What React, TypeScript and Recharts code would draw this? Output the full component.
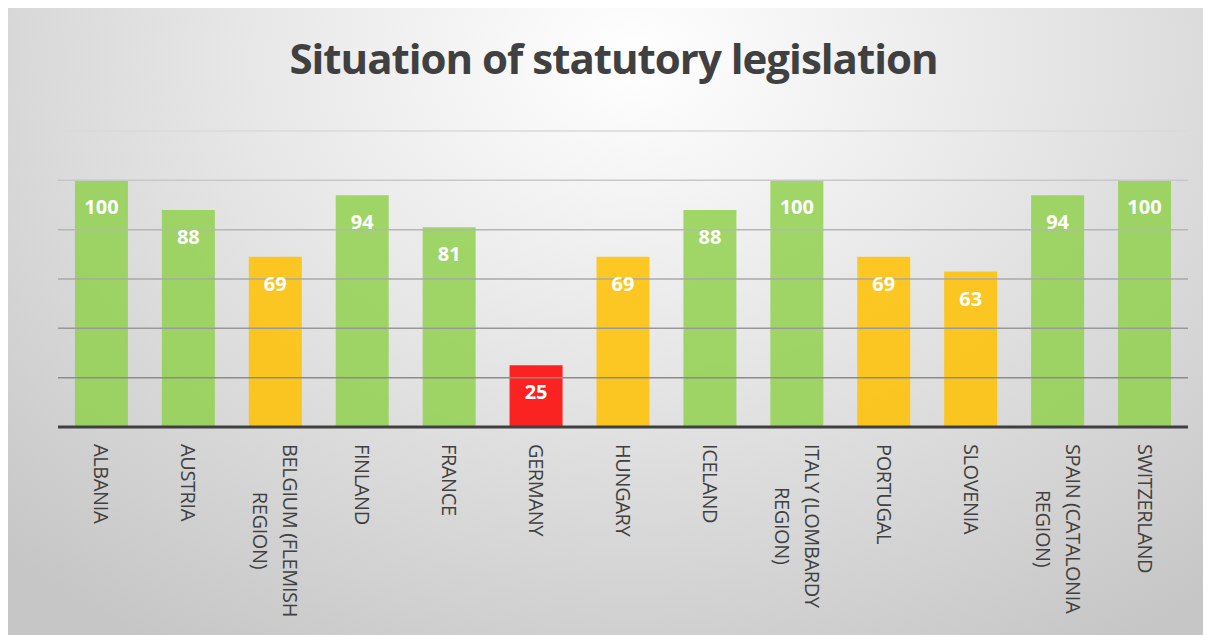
import { BarChart, Bar, XAxis, YAxis, Cell, LabelList, ReferenceLine } from "recharts";

const countries = [
  "ALBANIA",
  "AUSTRIA",
  "BELGIUM (FLEMISH REGION)",
  "FINLAND",
  "FRANCE",
  "GERMANY",
  "HUNGARY",
  "ICELAND",
  "ITALY (LOMBARDY REGION)",
  "PORTUGAL",
  "SLOVENIA",
  "SPAIN (CATALONIA REGION)",
  "SWITZERLAND",
];
const scores = [100, 88, 69, 94, 81, 25, 69, 88, 100, 69, 63, 94, 100];
const gridValues = [20, 40, 60, 80, 100, 120];
const gridColors = ["#8c8c8c", "#999999", "#a8a8a8", "#b6b6b6", "#c8c8c8", "#dadada"];

const FONT = '"Open Sans", sans-serif';
const LABEL_SIZE = 20;
const LABEL_SPACING = -0.4;
const LINE_H = 30;
const W = 1203;
const H = 627;

const data = countries.map((country, i) => ({ country, score: scores[i] }));

// traffic light colouring by score
function scoreColor(v: number) {
  if (v >= 80) return "#92d050";
  if (v >= 50) return "#ffc000";
  return "#ff0000";
}

function wrapLabel(text: string, maxChars: number) {
  const words = text.split(" ");
  const lines: string[] = [];
  let cur = "";
  for (const w of words) {
    const next = cur ? cur + " " + w : w;
    if (next.length > maxChars && cur) {
      lines.push(cur);
      cur = w;
    } else {
      cur = next;
    }
  }
  if (cur) lines.push(cur);
  return lines;
}

let ctx: CanvasRenderingContext2D | null = null;
function measure(text: string) {
  if (!ctx) {
    ctx = document.createElement("canvas").getContext("2d");
  }
  if (!ctx) return text.length * LABEL_SIZE * 0.6;
  ctx.font = `${LABEL_SIZE}px "Open Sans"`;
  return ctx.measureText(text).width + LABEL_SPACING * text.length;
}

function CountryTick(props: any) {
  const { x, y, payload } = props;
  const lines = wrapLabel(payload.value, 16);
  const maxW = Math.max(...lines.map(measure));
  const capH = 14;
  const first = capH / 2 - ((lines.length - 1) * LINE_H) / 2;
  return (
    <g transform={`translate(${x},${y + 9}) rotate(90)`}>
      <text
        textAnchor="middle"
        fill="#404040"
        fontSize={LABEL_SIZE}
        fontFamily={FONT}
        letterSpacing={LABEL_SPACING}
      >
        {lines.map((l, i) => (
          <tspan key={i} x={maxW / 2} y={first + i * LINE_H}>
            {l}
          </tspan>
        ))}
      </text>
    </g>
  );
}

function BarValue(props: any) {
  const { x, y, width, value } = props;
  return (
    <text
      x={x + width / 2}
      y={y + 34}
      textAnchor="middle"
      fill="#ffffff"
      fontSize={20}
      fontWeight="bold"
      fontFamily={FONT}
    >
      {value}
    </text>
  );
}

export default function App() {
  return (
    <div
      style={{
        position: "relative",
        width: W,
        height: H,
        overflow: "hidden",
        background:
          "radial-gradient(ellipse 75% 110% at 52% 8%, #ffffff 0%, #e3e3e3 50%, #c6c6c6 100%)",
      }}
    >
      <div
        style={{
          position: "absolute",
          top: 29,
          left: 4,
          width: W,
          textAlign: "center",
          fontFamily: FONT,
          fontWeight: "bold",
          fontSize: 42,
          lineHeight: "42px",
          letterSpacing: -1,
          color: "#404040",
        }}
      >
        Situation of statutory legislation
      </div>
      <BarChart
        width={W}
        height={H}
        data={data}
        margin={{ top: 123, right: 23, bottom: 0, left: 50 }}
        barCategoryGap="19.5%"
        style={{ position: "absolute", top: 0, left: 0 }}
      >
        <YAxis hide domain={[0, 120]} ticks={[0, 20, 40, 60, 80, 100, 120]} />
        {gridValues.map((v, i) => (
          <ReferenceLine key={v} y={v} stroke={gridColors[i]} strokeWidth={1.5} />
        ))}
        <Bar dataKey="score" isAnimationActive={false} fillOpacity={0.85}>
          {data.map((d) => (
            <Cell key={d.country} fill={scoreColor(d.score)} />
          ))}
          <LabelList dataKey="score" content={BarValue} />
        </Bar>
        <XAxis
          dataKey="country"
          height={208}
          interval={0}
          tickLine={false}
          axisLine={{ stroke: "#404040", strokeWidth: 3 }}
          tick={CountryTick}
        />
      </BarChart>
    </div>
  );
}
